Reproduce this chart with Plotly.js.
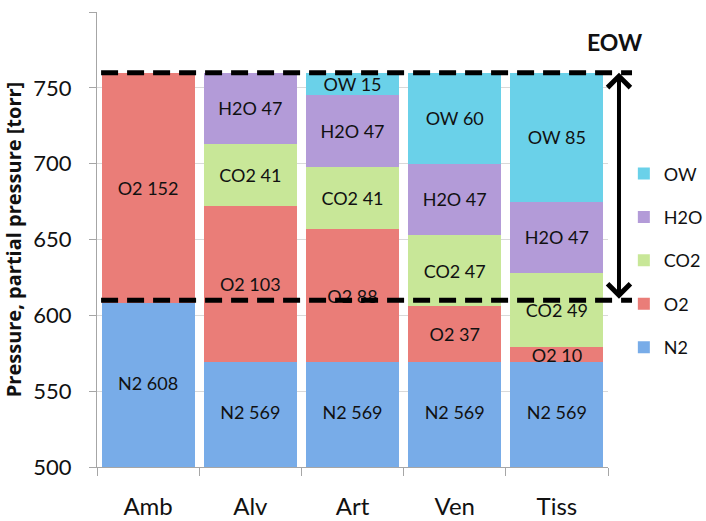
<!DOCTYPE html>
<html><head><meta charset="utf-8">
<script src="https://cdn.plot.ly/plotly-3.0.1.min.js"></script>
<style>html,body{margin:0;padding:0;background:#fff}#chart{width:706px;height:521px}</style>
</head><body><div id="chart"></div>
<script>
const categories = ['Amb', 'Alv', 'Art', 'Ven', 'Tiss'];
const seriesNames = ['N2', 'O2', 'CO2', 'H2O', 'OW'];
const n2Values = [608, 569, 569, 569, 569];
const o2Values = [152, 103, 88, 37, 10];
const co2Values = [null, 41, 41, 47, 49];
const h2oValues = [null, 47, 47, 47, 47];
const owValues = [null, null, 15, 60, 85];
const eowTop = 760;
const eowBottom = 610;
const eowLabel = 'EOW';
const yRange = [500, 800];
const yTickValues = [500, 550, 600, 650, 700, 750, 800];
const yTitle = 'Pressure, partial pressure [torr]';

const seriesValues = [n2Values, o2Values, co2Values, h2oValues, owValues];
const seriesColors = ['#78ace8', '#ea7d78', '#c8e798', '#b39bd8', '#6ad1e9'];
const FONT = 'Lato, "Open Sans", sans-serif';

const traces = seriesNames.map((name, i) => ({
  type: 'bar',
  name: name,
  x: categories,
  y: seriesValues[i],
  // N2 bars start far below the visible range; their labels are placed separately
  text: seriesValues[i].map(v => (v == null || i === 0 ? '' : name + ' ' + v)),
  textposition: 'inside',
  insidetextanchor: 'middle',
  textangle: 0,
  textfont: {family: FONT, size: 18, color: '#111'},
  marker: {color: seriesColors[i], line: {width: 0}},
  legendgroup: name,
  legendrank: 10 - i,
  hoverinfo: 'x+y+name'
}));

// labels of the N2 segments, centred in the visible part of each bar
traces.push({
  type: 'scatter', mode: 'text', showlegend: false, hoverinfo: 'skip',
  x: categories,
  y: n2Values.map(v => (yRange[0] + v) / 2),
  text: n2Values.map(v => seriesNames[0] + ' ' + v),
  textposition: 'middle center',
  textfont: {family: FONT, size: 18, color: '#111'}
});

const layout = {
  width: 706, height: 521,
  margin: {l: 97, r: 98, t: 12, b: 54, autoexpand: false},
  paper_bgcolor: '#fff', plot_bgcolor: '#fff',
  barmode: 'stack',
  bargap: 0.09,
  font: {family: FONT, color: '#111'},
  uniformtext: {mode: 'show', minsize: 18},
  showlegend: true,
  legend: {
    x: 1.031, xanchor: 'left', y: 0.685, yanchor: 'top',
    traceorder: 'grouped', tracegroupgap: 17,
    font: {family: FONT, size: 18, color: '#111'},
    bgcolor: 'rgba(0,0,0,0)'
  },
  xaxis: {
    type: 'category',
    showline: true, linecolor: '#a6a6a6', linewidth: 1,
    ticks: 'outside', tickson: 'boundaries', ticklen: 8, tickcolor: '#a6a6a6',
    tickfont: {family: FONT, size: 24, color: '#111'},
    ticklabelstandoff: 18,
    showgrid: false
  },
  yaxis: {
    range: yRange,
    tickvals: yTickValues,
    showline: true, linecolor: '#a6a6a6', linewidth: 1,
    ticks: 'outside', ticklen: 7, tickcolor: '#a6a6a6',
    tickfont: {family: FONT, size: 22, color: '#111'},
    ticklabelstandoff: 13,
    showgrid: true, gridcolor: '#d9d9d9', gridwidth: 1,
    zeroline: false,
    title: {text: yTitle, font: {family: '"Open Sans", Lato, sans-serif', size: 20, color: '#111', weight: 'bold'}, standoff: 12}
  },
  shapes: [eowTop, eowBottom].map(v => ({
    type: 'line', xref: 'paper', yref: 'y',
    x0: 0.008, x1: 1.047, y0: v, y1: v,
    line: {color: '#000', width: 5, dash: '17px,9px'}
  })),
  annotations: [
    {
      xref: 'paper', yref: 'y', x: 1.0215, y: eowTop,
      axref: 'pixel', ayref: 'y', ax: 0, ay: eowBottom,
      text: '', showarrow: true,
      arrowside: 'end+start', arrowhead: 4, startarrowhead: 4,
      arrowsize: 1.1, startarrowsize: 1.1, arrowwidth: 4, arrowcolor: '#000'
    },
    {
      xref: 'paper', yref: 'y', x: 1.012, y: 780,
      xanchor: 'center', yanchor: 'middle',
      text: '<b>' + eowLabel + '</b>', showarrow: false,
      font: {family: FONT, size: 23, color: '#111'}
    }
  ]
};

Plotly.newPlot('chart', traces, layout, {displayModeBar: false, staticPlot: true});
</script>
</body></html>
